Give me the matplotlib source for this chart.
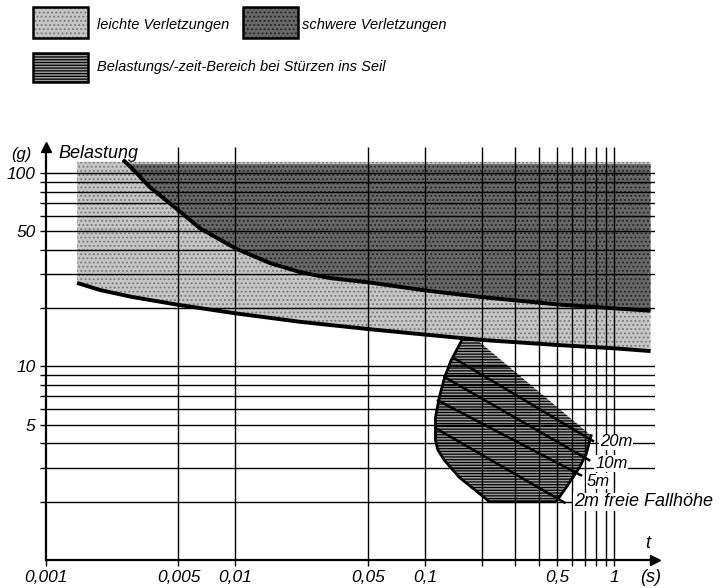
import matplotlib.pyplot as plt
from matplotlib.patches import Rectangle
from matplotlib.ticker import FixedLocator, NullFormatter

plt.rcParams['font.family'] = ['Liberation Sans', 'DejaVu Sans']
plt.rcParams['font.style'] = 'italic'
plt.rcParams['hatch.linewidth'] = 0.9

# Gitterlinien und Achsbeschriftung (Zeit in s, Belastung in g)
t_grid = [0.005, 0.01, 0.05, 0.1, 0.2, 0.3, 0.4, 0.5, 0.6, 0.7, 0.8, 0.9, 1.0]
g_grid = [2, 3, 4, 5, 6, 7, 8, 9, 10, 20, 30, 40, 50, 60, 70, 80, 90, 100]
t_ticks = [0.001, 0.005, 0.01, 0.05, 0.1, 0.5, 1.0]
t_ticklabels = ['0,001', '0,005', '0,01', '0,05', '0,1', '0,5', '1']
g_ticks = [5, 10, 50, 100]
g_ticklabels = ['5', '10', '50', '100']

# Grenze leichte Verletzungen
light_t = [0.00146, 0.00193, 0.00288, 0.005, 0.01, 0.0219, 0.05, 0.1, 0.2, 0.5, 1.0, 1.55]
light_g = [27.0, 24.8, 22.8, 20.8, 18.8, 17.0, 15.6, 14.6, 13.7, 12.9, 12.4, 12.0]
light_top = 114

# Grenze schwere Verletzungen
severe_t = [0.00255, 0.0030, 0.0035, 0.005, 0.0065, 0.01, 0.0152, 0.0219, 0.0315, 0.05,
            0.1, 0.2, 0.5, 1.0, 1.55]
severe_g = [117, 100, 85, 64, 51.7, 40.7, 34.2, 30.7, 28.6, 27.2, 24.7, 22.8, 20.9, 19.95, 19.4]
severe_top = 111

# Bereich bei Stuerzen ins Seil (Umriss, im Uhrzeigersinn)
fall_t = [0.158, 0.19, 0.753, 0.709, 0.654, 0.556, 0.492, 0.219, 0.152, 0.127, 0.117,
          0.1136, 0.1136, 0.119, 0.127, 0.137]
fall_g = [13.9, 13.6, 4.39, 3.53, 3.01, 2.37, 2.0, 2.0, 2.67, 3.26, 3.7,
          4.14, 5.46, 6.93, 8.8, 10.7]

# Linien gleicher freier Fallhoehe
heights = ['20m', '10m', '5m', '2m freie Fallhöhe']
height_t0 = [0.143, 0.127, 0.117, 0.1136]
height_g0 = [11.0, 8.8, 6.67, 4.8]
height_t1 = [0.77, 0.735, 0.665, 0.545]
height_g1 = [4.12, 3.28, 2.74, 1.98]
height_label_t = [0.84, 0.79, 0.71, 0.612]
height_label_g = [4.08, 3.15, 2.55, 2.0]

fig = plt.figure(figsize=(7.28, 5.88), dpi=100)
ax = fig.add_axes([46 / 728, 28 / 588, 609 / 728, 413 / 588])
ax.set_xscale('log')
ax.set_yscale('log')
ax.set_xlim(0.001, 1.636)
ax.set_ylim(1, 136)

# leichte Verletzungen
ax.fill_between(light_t, light_g, light_top, facecolor='#c6c6c6', edgecolor='#7a7a7a',
                hatch='....', linewidth=0, zorder=1)
# schwere Verletzungen
sev_x = [severe_t[1] * 0.93] + severe_t[1:]
sev_y = [severe_top] + severe_g[1:]
ax.fill_between(sev_x, sev_y, severe_top, facecolor='#686868', edgecolor='#262626',
                hatch='....', linewidth=0, zorder=1.1)
# Belastungs-/Zeitbereich
ax.fill(fall_t, fall_g, facecolor='#9c9c9c', edgecolor='black', hatch='------',
        linewidth=0, zorder=1.2)

# Gitter
ax.vlines(t_grid, 1, 136, color='black', linewidth=1.0, zorder=2)
ax.hlines(g_grid, 0.001, 1.636, color='black', linewidth=1.0, zorder=2)

# Grenzkurven
ax.plot(light_t, light_g, color='black', linewidth=2.8, solid_capstyle='butt',
        solid_joinstyle='round', zorder=3)
ax.plot(severe_t, severe_g, color='black', linewidth=2.8, solid_capstyle='butt',
        solid_joinstyle='round', zorder=3)
outline_t = fall_t[2:] + fall_t[:1]
outline_g = fall_g[2:] + fall_g[:1]
ax.plot(outline_t, outline_g, color='black', linewidth=2.0, solid_joinstyle='round', zorder=3)

for t0, g0, t1, g1 in zip(height_t0, height_g0, height_t1, height_g1):
    ax.plot([t0, t1], [g0, g1], color='black', linewidth=1.8, zorder=3)

for txt, lx, ly in zip(heights, height_label_t, height_label_g):
    ax.text(lx, ly, txt, fontsize=13 if txt.startswith('2m') else 12, ha='left', va='center',
            zorder=4, bbox=dict(facecolor='white', edgecolor='none', pad=0.5))

# Achsen
for side in ['top', 'right']:
    ax.spines[side].set_visible(False)
ax.spines['left'].set_linewidth(1.6)
ax.spines['bottom'].set_linewidth(1.6)
ax.set_facecolor('none')
ax.plot(1, 0, '>k', markersize=7, transform=ax.transAxes, clip_on=False)
ax.plot(0, 1, '^k', markersize=7, transform=ax.transAxes, clip_on=False)

ax.xaxis.set_major_locator(FixedLocator(t_ticks))
ax.set_xticklabels(t_ticklabels)
ax.xaxis.set_minor_locator(FixedLocator(t_grid))
ax.xaxis.set_minor_formatter(NullFormatter())
ax.yaxis.set_major_locator(FixedLocator(g_ticks))
ax.set_yticklabels(g_ticklabels)
ax.yaxis.set_minor_locator(FixedLocator(g_grid))
ax.yaxis.set_minor_formatter(NullFormatter())
ax.tick_params(which='both', direction='out', length=4, width=1.0, labelsize=12.5)

# Legende und Achsentitel
ov = fig.add_axes([0, 0, 1, 1], zorder=-1)
ov.set_xlim(0, 728)
ov.set_ylim(588, 0)
ov.axis('off')
ov.add_patch(Rectangle((33, 7), 55, 31, facecolor='#c6c6c6', edgecolor='#7a7a7a', hatch='....', linewidth=0))
ov.add_patch(Rectangle((33, 7), 55, 31, facecolor='none', edgecolor='black', linewidth=1.8))
ov.add_patch(Rectangle((243, 7), 55, 31, facecolor='#686868', edgecolor='#262626', hatch='....', linewidth=0))
ov.add_patch(Rectangle((243, 7), 55, 31, facecolor='none', edgecolor='black', linewidth=1.8))
ov.add_patch(Rectangle((33, 53), 55, 29, facecolor='#9c9c9c', edgecolor='black', hatch='------', linewidth=0))
ov.add_patch(Rectangle((33, 53), 55, 29, facecolor='none', edgecolor='black', linewidth=1.8))
ov.text(97, 25, 'leichte Verletzungen', fontsize=10.5, va='center')
ov.text(302, 25, 'schwere Verletzungen', fontsize=10.5, va='center')
ov.text(97, 67, 'Belastungs/-zeit-Bereich bei Stürzen ins Seil', fontsize=10.5, va='center')
ov.text(31, 154, '(g)', fontsize=12, va='center', ha='right')
ov.text(58, 153, 'Belastung', fontsize=13, va='center')
ov.text(648, 543, 't', fontsize=13, va='center', ha='center')
ov.text(640, 577, '(s)', fontsize=13, va='center', ha='left')

fig.savefig('out.png', dpi=100)
